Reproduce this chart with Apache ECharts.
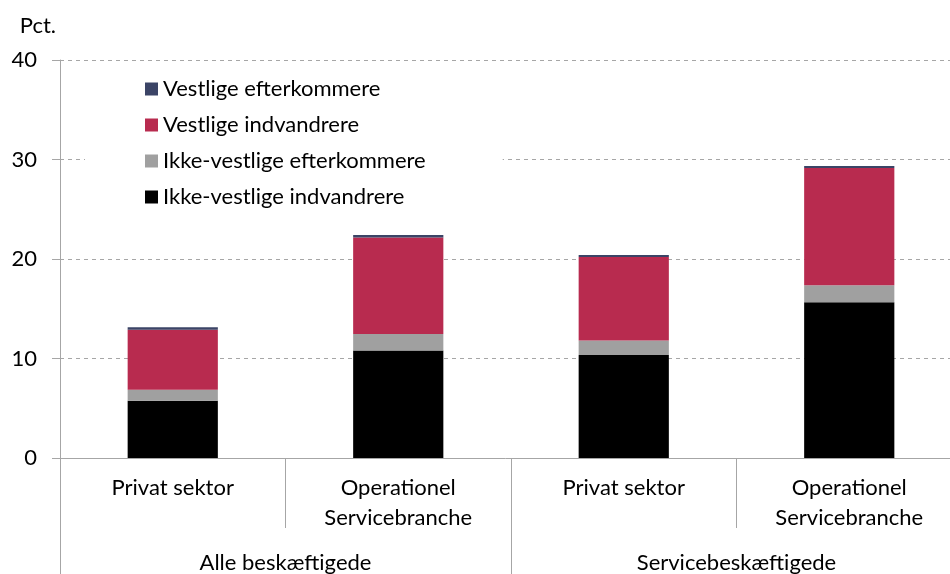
<!DOCTYPE html>
<html>
<head>
<meta charset="utf-8">
<script src="https://cdn.jsdelivr.net/npm/echarts@6/dist/echarts.min.js"></script>
<style>html,body{margin:0;padding:0;background:#fff}#c{width:950px;height:574px}</style>
</head>
<body>
<div id="c"></div>
<script>
const categories = ['Privat sektor', 'Operationel\nServicebranche', 'Privat sektor', 'Operationel\nServicebranche'];
const groups = ['Alle beskæftigede', 'Servicebeskæftigede'];
const yTicks = [0, 10, 20, 30, 40];
const ikkeVestligeIndvandrere = [5.75, 10.8, 10.35, 15.65];
const ikkeVestligeEfterkommere = [1.1, 1.65, 1.45, 1.7];
const vestligeIndvandrere = [6.05, 9.7, 8.4, 11.8];
const vestligeEfterkommere = [0.25, 0.25, 0.2, 0.2];

const FONT = 'Lato';
const FS = 22;
const AX = '#a6a6a6';
const chart = echarts.init(document.getElementById('c'), null, {renderer: 'canvas'});
const mk = (name, data, color) => ({
  name, type: 'bar', stack: 's', data, barWidth: '40%',
  itemStyle: {color}, emphasis: {disabled: true}
});
chart.setOption({
  animation: false,
  textStyle: {fontFamily: FONT},
  grid: {left: 60, top: 60, width: 902, height: 398, outerBoundsMode: 'none', containLabel: false},
  legend: {
    orient: 'vertical', left: 85, top: 68,
    padding: [10, 77, 6, 60],
    backgroundColor: '#fff',
    itemWidth: 13, itemHeight: 13, itemGap: 14,
    icon: 'rect',
    textStyle: {fontSize: FS, color: '#000', fontFamily: FONT},
    data: ['Vestlige efterkommere', 'Vestlige indvandrere', 'Ikke-vestlige efterkommere', 'Ikke-vestlige indvandrere']
  },
  xAxis: [{
    type: 'category', data: categories,
    axisLine: {lineStyle: {color: AX}},
    axisTick: {show: true, interval: 0, length: 70, lineStyle: {color: AX}},
    axisLabel: {fontSize: FS, color: '#000', lineHeight: 30, margin: 15, interval: 0, fontFamily: FONT}
  }, {
    type: 'category', data: groups, position: 'bottom',
    axisLine: {show: false},
    axisTick: {show: true, interval: 0, length: 116, lineStyle: {color: AX}},
    axisLabel: {fontSize: FS, color: '#000', lineHeight: 30, margin: 90, interval: 0, fontFamily: FONT}
  }],
  yAxis: {
    type: 'value', min: yTicks[0], max: yTicks[yTicks.length - 1], interval: 10,
    name: 'Pct.', nameLocation: 'end', nameGap: 23,
    nameTextStyle: {fontSize: FS, color: '#000', align: 'right', padding: [0, 4, 0, 0], fontFamily: FONT},
    axisLine: {show: true, lineStyle: {color: AX}},
    axisTick: {show: true, length: 8, lineStyle: {color: AX}},
    axisLabel: {fontSize: FS, color: '#000', margin: 23, fontFamily: FONT},
    splitLine: {lineStyle: {color: '#a6a6a6', type: [4, 4]}}
  },
  series: [
    mk('Ikke-vestlige indvandrere', ikkeVestligeIndvandrere, '#000000'),
    mk('Ikke-vestlige efterkommere', ikkeVestligeEfterkommere, '#a0a0a0'),
    mk('Vestlige indvandrere', vestligeIndvandrere, '#b82b4f'),
    mk('Vestlige efterkommere', vestligeEfterkommere, '#3b4466')
  ]
});
</script>
</body>
</html>
